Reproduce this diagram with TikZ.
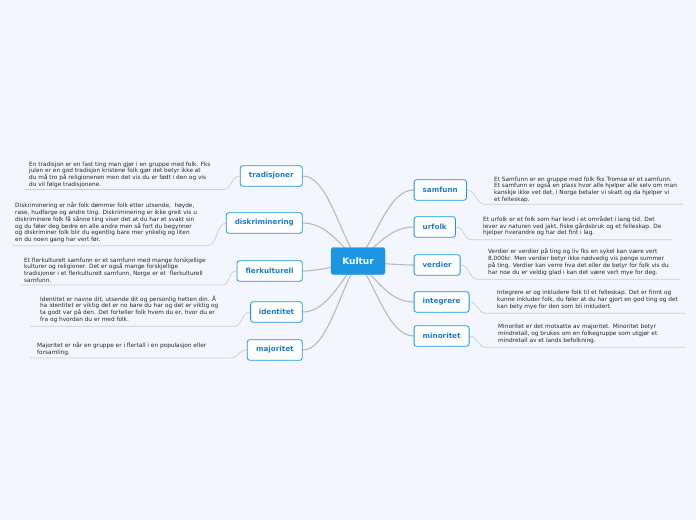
\documentclass[tikz,border=0pt]{standalone}
\usepackage{fontspec}
\setmainfont{DejaVu Sans}
\definecolor{bgcol}{RGB}{243,246,253}
\definecolor{mainblue}{RGB}{28,150,226}
\definecolor{labelblue}{RGB}{30,125,210}
\definecolor{conncol}{RGB}{185,185,192}
\definecolor{ulinecol}{RGB}{205,205,212}
\definecolor{desccol}{RGB}{40,40,40}
\pgfdeclarelayer{bgfill}
\pgfdeclarelayer{edges}
\pgfsetlayers{bgfill,edges,main}
\begin{document}
\begin{tikzpicture}[x=1pt,y=1pt,
  rootbox/.style={fill=mainblue, draw=mainblue, rounded corners=2.5pt, text=white,
    font=\fontsize{9}{10}\selectfont\bfseries, minimum width=54pt, minimum height=27pt, inner sep=0pt},
  topic/.style={fill=white, draw=mainblue, line width=0.8pt, rounded corners=2.5pt, text=labelblue,
    font=\fontsize{7.2}{8}\selectfont\bfseries, minimum height=20.5pt, inner sep=0pt},
  desc/.style={align=left, text=desccol, font=\fontsize{5.8}{6.8}\selectfont, inner sep=0pt},
  branch/.style={draw=conncol, line width=1.1pt},
  leaf/.style={draw=ulinecol, line width=0.7pt}]

\useasboundingbox (0,0) rectangle (696,-520);
\begin{pgfonlayer}{bgfill}
\fill[bgcol] (0,0) rectangle (696,-520);
\end{pgfonlayer}

% central node
\node[rootbox] (kultur) at (358,-261) {Kultur};

% left topics
\node[topic, minimum width=62pt, anchor=east] (trad) at (302.7,-176) {tradisjoner};
\node[topic, minimum width=76pt, anchor=east] (disk) at (302.7,-223) {diskriminering};
\node[topic, minimum width=65.4pt, anchor=east] (fler) at (302.7,-271) {flerkulturell};
\node[topic, minimum width=51.7pt, anchor=east] (iden) at (302.7,-312) {identitet};
\node[topic, minimum width=55pt, anchor=east] (majo) at (302.7,-350) {majoritet};

% right topics
\node[topic, minimum width=52.3pt, anchor=west] (samf) at (413.7,-190) {samfunn};
\node[topic, minimum width=41.3pt, anchor=west] (urfo) at (413.7,-227) {urfolk};
\node[topic, minimum width=46pt, anchor=west] (verd) at (413.7,-265) {verdier};
\node[topic, minimum width=55pt, anchor=west] (inte) at (413.7,-302) {integrere};
\node[topic, minimum width=55pt, anchor=west] (mino) at (413.7,-336) {minoritet};

% descriptions
\node[desc, anchor=north west] (tradT) at (29,-161.5) {En tradisjon er en fast ting man gjør i en gruppe med folk. Fks\\julen er en god tradisjon kristene folk gjør det betyr ikke at\\du må tro på religionenen men det vis du er født i den og vis\\du vil følge tradisjonene.};
\node[desc, anchor=north west] (diskT) at (15,-202.5) {Diskriminering er når folk dømmer folk etter utsende,~ høyde,\\rase, hudfarge og andre ting. Diskriminering er ikke greit vis u\\diskriminere folk få sånne ting viser det at du har et svakt sin\\og du føler deg bedre en alle andre men så fort du begynner\\og diskriminer folk blir du egentlig bare mer ynkelig og liten\\en du noen gang har vert før.};
\node[desc, anchor=north west] (flerT) at (24,-257.5) {Et flerkulturelt samfunn er et samfunn med mange forskjellige\\kulturer og religioner. Det er også mange forskjellige\\tradisjoner i et flerkulturelt samfunn, Norge er et~ flerkulturell\\samfunn.};
\node[desc, anchor=north west] (idenT) at (40,-295.5) {Identitet er navne dit, utsende dit og personlig hetten din. Å\\ha identitet er viktig det er no bare du har og det er viktig og\\ta godt var på den. Det forteller folk hvem du er, hvor du er\\fra og hvordan du er med folk.};
\node[desc, anchor=north west] (majoT) at (37,-342) {Majoritet er når en gruppe er i flertall i en populasjon eller\\forsamling.};

\node[desc, anchor=north west] (samfT) at (494,-176.5) {Et Samfunn er en gruppe med folk fks Tromsø er et samfunn.\\Et samfunn er også en plass hvor alle hjelper alle selv om man\\kanskje ikke vet det, i Norge betaler vi skatt og da hjelper vi\\et felleskap.};
\node[desc, anchor=north west] (urfoT) at (483,-216) {Et urfolk er et folk som har levd i et området i lang tid. Det\\lever av naturen ved jakt, fiske gårdsbruk og et felleskap. De\\hjelper hverandre og har det fint i lag.};
\node[desc, anchor=north west] (verdT) at (488,-248.5) {Verdier er verdier på ting og liv fks en sykel kan være vert\\8,000kr. Men verdier betyr ikke nødvedig vis penge summer\\på ting. Verdier kan verre hva det eller de betyr for folk vis du\\har noe du er veldig glad i kan det være vert mye for deg.};
\node[desc, anchor=north west] (inteT) at (497,-290) {Integrere er og inkludere folk til et felleskap. Det er finnt og\\kunne inkluder folk, du føler at du har gjort en god ting og det\\kan bety mye for den som bli inkludert.};
\node[desc, anchor=north west] (minoT) at (498,-324) {Minoritet er det motsatte av majoritet. Minoritet betyr\\mindretall, og brukes om en folkegruppe som utgjør et\\mindretall av et lands befolkning.};

% underline end points
\coordinate (tradA) at (223,-189.5);  \coordinate (tradB) at (25,-189.5);
\coordinate (diskA) at (208,-245.7);  \coordinate (diskB) at (12,-245.7);
\coordinate (flerA) at (222,-285);    \coordinate (flerB) at (20,-285);
\coordinate (idenA) at (234,-326.3);  \coordinate (idenB) at (30,-326.3);
\coordinate (majoA) at (230,-358);    \coordinate (majoB) at (30,-358);
\coordinate (samfA) at (485,-204.3);  \coordinate (samfB) at (683,-204.3);
\coordinate (urfoA) at (472,-239.7);  \coordinate (urfoB) at (672,-239.7);
\coordinate (verdA) at (478,-279.3);  \coordinate (verdB) at (680,-279.3);
\coordinate (inteA) at (486,-313.3);  \coordinate (inteB) at (685,-313.3);
\coordinate (minoA) at (486,-347.3);  \coordinate (minoB) at (685,-347.3);

\begin{pgfonlayer}{edges}
% branches from the centre
\path[branch] (kultur.center) .. controls +(-20,32) and +(24,0) .. (trad.east);
\path[branch] (kultur.center) .. controls +(-18,16) and +(24,0) .. (disk.east);
\path[branch] (kultur.center) .. controls +(-15,-4) and +(15,0) .. (fler.east);
\path[branch] (kultur.center) .. controls +(-18,-20) and +(24,0) .. (iden.east);
\path[branch] (kultur.center) .. controls +(-20,-34) and +(24,0) .. (majo.east);
\path[branch] (kultur.center) .. controls +(20,28) and +(-24,0) .. (samf.west);
\path[branch] (kultur.center) .. controls +(18,14) and +(-24,0) .. (urfo.west);
\path[branch] (kultur.center) .. controls +(15,-2) and +(-15,0) .. (verd.west);
\path[branch] (kultur.center) .. controls +(18,-18) and +(-24,0) .. (inte.west);
\path[branch] (kultur.center) .. controls +(20,-30) and +(-24,0) .. (mino.west);
% leaf connectors with underlines
\path[leaf] (trad.west) .. controls +(-9,0) and +(9,0) .. (tradA) -- (tradB);
\path[leaf] (disk.west) .. controls +(-9,0) and +(9,0) .. (diskA) -- (diskB);
\path[leaf] (fler.west) .. controls +(-9,0) and +(9,0) .. (flerA) -- (flerB);
\path[leaf] (iden.west) .. controls +(-9,0) and +(9,0) .. (idenA) -- (idenB);
\path[leaf] (majo.west) .. controls +(-9,0) and +(9,0) .. (majoA) -- (majoB);
\path[leaf] (samf.east) .. controls +(9,0) and +(-9,0) .. (samfA) -- (samfB);
\path[leaf] (urfo.east) .. controls +(9,0) and +(-9,0) .. (urfoA) -- (urfoB);
\path[leaf] (verd.east) .. controls +(9,0) and +(-9,0) .. (verdA) -- (verdB);
\path[leaf] (inte.east) .. controls +(9,0) and +(-9,0) .. (inteA) -- (inteB);
\path[leaf] (mino.east) .. controls +(9,0) and +(-9,0) .. (minoA) -- (minoB);
\end{pgfonlayer}
\end{tikzpicture}
\end{document}
